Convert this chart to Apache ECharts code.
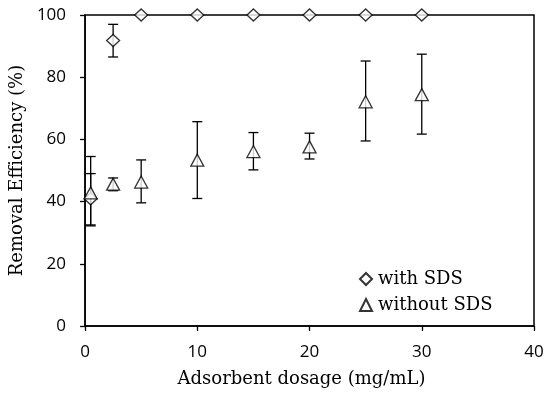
<!DOCTYPE html>
<html><head><meta charset="utf-8">
<script src="https://cdn.jsdelivr.net/npm/echarts@6/dist/echarts.min.js"></script>
<style>html,body{margin:0;padding:0;background:#fff}#c{width:550px;height:395px}</style>
</head><body><div id="c"></div>
<script>
const dosage = [0.5, 2.5, 5, 10, 15, 20, 25, 30];
const withSDS = [40.9, 91.8, 100, 100, 100, 100, 100, 100];
const withSDSLow = [32.5, 86.5, null, null, null, null, null, null];
const withSDSHigh = [49.0, 97.0, null, null, null, null, null, null];
const withoutSDS = [42.8, 45.6, 46.3, 53.3, 56.1, 57.6, 72.1, 74.4];
const withoutSDSLow = [32.2, 43.5, 39.6, 41.0, 50.2, 53.7, 59.5, 61.7];
const withoutSDSHigh = [54.5, 47.6, 53.4, 65.7, 62.2, 62.0, 85.2, 87.4];
const xTicks = [0, 10, 20, 30, 40];
const yTicks = [0, 20, 40, 60, 80, 100];

const chart = echarts.init(document.getElementById('c'));
function errData(low, high) {
  const out = [];
  dosage.forEach((x, i) => { if (low[i] != null) out.push([x, low[i], high[i]]); });
  return out;
}
function errSeries(name, low, high) {
  return {
    type: 'custom', name: name + ' err', silent: true, z: 3,
    data: errData(low, high),
    renderItem: function (params, api) {
      const lo = api.coord([api.value(0), api.value(1)]);
      const hi = api.coord([api.value(0), api.value(2)]);
      const w = 5;
      const st = { stroke: '#000', lineWidth: 1.3 };
      return { type: 'group', children: [
        { type: 'line', shape: { x1: lo[0], y1: lo[1], x2: hi[0], y2: hi[1] }, style: st },
        { type: 'line', shape: { x1: lo[0] - w, y1: lo[1], x2: lo[0] + w, y2: lo[1] }, style: st },
        { type: 'line', shape: { x1: hi[0] - w, y1: hi[1], x2: hi[0] + w, y2: hi[1] }, style: st }
      ]};
    }
  };
}
const serif = '"DejaVu Serif", "Liberation Serif", serif';
const sans = '"Open Sans", "Liberation Sans", sans-serif';
chart.setOption({
  animation: false,
  backgroundColor: '#fff',
  grid: { left: 85, right: 16, top: 15, bottom: 69, show: true, borderColor: '#000', borderWidth: 1.5 },
  xAxis: {
    type: 'value', min: 0, max: 40, interval: 10,
    name: 'Adsorbent dosage (mg/mL)', nameLocation: 'middle', nameGap: 44,
    nameTextStyle: { fontFamily: serif, fontSize: 18, color: '#000', padding: [0, 16, 0, 0] },
    axisLine: { lineStyle: { color: '#000', width: 1.5 } },
    axisTick: { show: true, length: 5, lineStyle: { color: '#000', width: 1.3 } },
    axisLabel: { fontFamily: sans, fontSize: 17, color: '#000', margin: 18,
      formatter: v => xTicks.includes(v) ? String(v) : '' },
    splitLine: { show: false }
  },
  yAxis: {
    type: 'value', min: 0, max: 100, interval: 20,
    name: 'Removal Efficiency (%)', nameLocation: 'middle', nameGap: 58,
    nameTextStyle: { fontFamily: serif, fontSize: 18, color: '#000' },
    axisLine: { show: true, lineStyle: { color: '#000', width: 1.5 } },
    axisTick: { show: true, length: 5, lineStyle: { color: '#000', width: 1.3 } },
    axisLabel: { fontFamily: sans, fontSize: 17, color: '#000', margin: 19,
      formatter: v => yTicks.includes(v) ? String(v) : '' },
    splitLine: { show: false }
  },
  legend: {
    orient: 'vertical', left: 359, top: 270, itemGap: 8,
    itemWidth: 12, itemHeight: 12, padding: 0,
    data: ['with SDS', 'without SDS'],
    textStyle: { fontFamily: serif, fontSize: 18, color: '#000', padding: [0, 0, 0, 1] }
  },
  series: [
    errSeries('with SDS', withSDSLow, withSDSHigh),
    errSeries('without SDS', withoutSDSLow, withoutSDSHigh),
    {
      name: 'with SDS', type: 'scatter', z: 5,
      data: dosage.map((x, i) => [x, withSDS[i]]),
      symbol: 'diamond', symbolSize: [13, 12],
      itemStyle: { color: '#fff', borderColor: '#000', borderWidth: 1.3 }
    },
    {
      name: 'without SDS', type: 'scatter', z: 5,
      data: dosage.map((x, i) => [x, withoutSDS[i]]),
      symbol: 'triangle', symbolSize: [13, 12],
      itemStyle: { color: '#fff', borderColor: '#000', borderWidth: 1.3 }
    }
  ]
});
</script></body></html>
